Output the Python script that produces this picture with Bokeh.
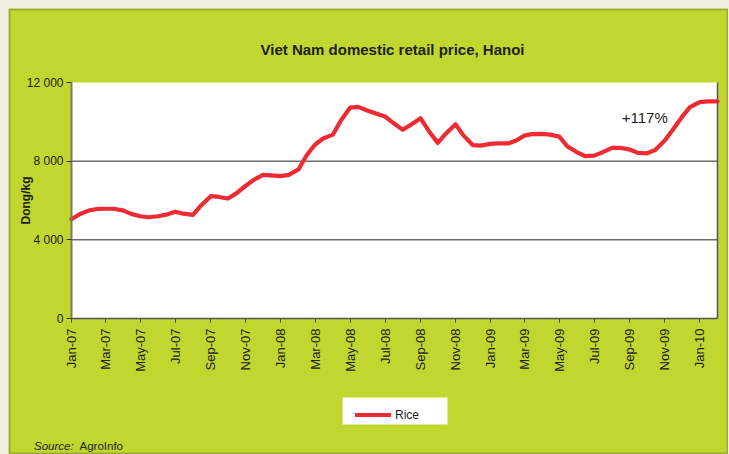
import pandas as pd
from math import pi
from bokeh.plotting import figure
from bokeh.models import (Range1d, FixedTicker, MonthsTicker, DatetimeTickFormatter,
                          Label, Legend, LegendItem, ColumnDataSource, BoxAnnotation)
from bokeh.embed import file_html
from bokeh.resources import INLINE

# ---------------- data ----------------
chart_title = "Viet Nam domestic retail price, Hanoi"
y_axis_title = "Dong/kg"
series_name = "Rice"
source_note = ["Source:", "AgroInfo"]

start_date = "2007-01-01"
end_date = "2010-02-01"
# semi-monthly retail price of rice, Dong/kg
rice_price = [
    5050, 5300, 5500, 5570, 5580, 5580, 5500, 5320,        # Jan-Apr 07
    5200, 5150, 5200, 5280, 5430, 5330, 5270, 5750,        # May-Aug 07
    6220, 6180, 6100, 6350, 6750, 7050, 7300, 7280,        # Sep-Dec 07
    7240, 7300, 7580, 8290, 8850, 9150, 9350, 10070,       # Jan-Apr 08
    10720, 10760, 10560, 10420, 10270, 9950, 9600, 9850,   # May-Aug 08
    10180, 9550, 8930, 9400, 9880, 9300, 8820, 8790,       # Sep-Dec 08
    8880, 8900, 8900, 9050, 9300, 9380, 9390, 9350,        # Jan-Apr 09
    9250, 8750, 8450, 8260, 8280, 8450, 8680, 8680,        # May-Aug 09
    8590, 8420, 8400, 8560, 9050, 9600, 10250, 10750,      # Sep-Dec 09
    11000, 11040, 11040,                                   # Jan-Feb 10
]
y_min, y_max = 0, 12000
y_ticks = [0, 4000, 8000, 12000]
y_tick_labels = ["0", "4 000", "8 000", "12 000"]
grid_values = [4000, 8000]
tick_months = [0, 2, 4, 6, 8, 10]   # Jan, Mar, May, Jul, Sep, Nov
annotation_text = "+117%"
annotation_date = "2009-08-18"
annotation_value = 10220

dates = pd.date_range(start_date, end_date, freq="SMS")
src = ColumnDataSource(dict(date=dates, price=rice_price))

# ---------------- layout (pixels) ----------------
W, H = 720, 446
PL, PR, PT, PB = 63, 11, 74, 136          # plot-area margins inside the canvas
GREEN = "#bfd72f"
RED = "#ee2b33"
TXT = "#222222"
FONT = "Liberation Sans"

t0, t1 = pd.Timestamp(start_date), pd.Timestamp(end_date)
t0_ms, t1_ms = t0.timestamp() * 1000, t1.timestamp() * 1000
ms_per_px = (t1_ms - t0_ms) / (W - PL - PR)
val_per_px = (y_max - y_min) / (H - PT - PB)

p = figure(width=W, height=H, x_axis_type="datetime",
           output_backend="svg", toolbar_location=None, min_border=0,
           x_range=Range1d(t0_ms - PL * ms_per_px, t1_ms + PR * ms_per_px),
           y_range=Range1d(y_min - PB * val_per_px, y_max + PT * val_per_px))
p.background_fill_color = GREEN
p.border_fill_color = GREEN
p.outline_line_color = None
p.xgrid.visible = False
p.ygrid.visible = False

# white plotting area
p.add_layout(BoxAnnotation(left=t0_ms, right=t1_ms, bottom=y_min, top=y_max,
                           fill_color="white", fill_alpha=1.0, line_color=None,
                           level="underlay"))

# horizontal gridlines and right edge of the plotting area
p.segment(x0=[t0] * len(grid_values), x1=[t1] * len(grid_values),
          y0=grid_values, y1=grid_values, line_color="#222222", line_width=1)
p.segment(x0=[t1], x1=[t1], y0=[y_min], y1=[y_max],
          line_color="#555555", line_width=1.5)

line = p.line("date", "price", source=src, line_color=RED, line_width=4.2,
              line_join="round", line_cap="round")

# x axis (sits on y = 0)
xa = p.xaxis[0]
xa.fixed_location = y_min
xa.bounds = (t0_ms, t1_ms)
xa.ticker = MonthsTicker(months=tick_months)
xa.formatter = DatetimeTickFormatter(days="%b-%y", months="%b-%y", years="%b-%y")
xa.major_label_orientation = pi / 2
xa.major_label_text_font = FONT
xa.major_label_text_font_size = "13px"
xa.major_label_text_color = TXT
xa.major_label_standoff = 6
xa.major_tick_in = 0
xa.major_tick_out = 4
xa.major_tick_line_color = "#444444"
xa.minor_tick_line_color = None
xa.axis_line_color = "#555555"
xa.axis_line_width = 1.5

# y axis (sits on the first date)
ya = p.yaxis[0]
ya.fixed_location = t0_ms
ya.bounds = (y_min, y_max)
ya.ticker = FixedTicker(ticks=y_ticks)
ya.major_label_overrides = {t: l for t, l in zip(y_ticks, y_tick_labels)}
ya.major_label_text_font = FONT
ya.major_label_text_font_size = "12px"
ya.major_label_text_color = TXT
ya.major_label_standoff = 3
ya.major_tick_in = 0
ya.major_tick_out = 5
ya.major_tick_line_color = "#333333"
ya.minor_tick_line_color = None
ya.axis_line_color = "#7a7a62"
ya.axis_line_width = 2
ya.axis_label = y_axis_title
ya.axis_label_text_font = FONT
ya.axis_label_text_font_style = "bold"
ya.axis_label_text_font_size = "12px"
ya.axis_label_text_color = TXT
ya.axis_label_standoff = -9

# title
p.add_layout(Label(x=384, y=H - 41, x_units="screen", y_units="screen",
                   text=chart_title, text_align="center", text_baseline="middle",
                   text_font=FONT, text_font_style="bold", text_font_size="15px",
                   text_color=TXT))

# annotation inside the plot
p.add_layout(Label(x=pd.Timestamp(annotation_date), y=annotation_value,
                   text=annotation_text, text_align="left", text_baseline="middle",
                   text_font=FONT, text_font_size="15px", text_color=TXT))

# legend (white key box below the axis)
p.add_layout(BoxAnnotation(left=334, right=439, bottom=30, top=57,
                           left_units="screen", right_units="screen",
                           bottom_units="screen", top_units="screen",
                           fill_color="white", fill_alpha=1.0, line_color=None,
                           level="annotation"))
legend = Legend(items=[LegendItem(label=series_name, renderers=[line])],
                location=(347, 32), orientation="horizontal",
                padding=4, margin=0, spacing=0,
                glyph_width=36, glyph_height=15, label_height=15,
                label_standoff=4, label_text_font=FONT, label_text_font_size="12px",
                label_text_color=TXT, background_fill_alpha=0.0,
                border_line_color=None, level="overlay")
p.add_layout(legend, "center")

# source note
p.add_layout(Label(x=25.5, y=9, x_units="screen", y_units="screen",
                   text=source_note[0], text_align="left", text_baseline="middle",
                   text_font=FONT, text_font_style="italic",
                   text_font_size="11.5px", text_color=TXT))
p.add_layout(Label(x=71, y=9, x_units="screen", y_units="screen",
                   text=source_note[1], text_align="left", text_baseline="middle",
                   text_font=FONT, text_font_size="11.5px", text_color=TXT))

# dark frame around the whole green panel
p.add_layout(BoxAnnotation(left=1, right=W - 1, bottom=1, top=H - 1,
                           left_units="screen", right_units="screen",
                           bottom_units="screen", top_units="screen",
                           fill_alpha=0.0, line_color="#4a4a3c", line_width=2,
                           level="overlay"))

html = file_html(p, INLINE)
html = html.replace("</head>",
                    "<style>html, body {background-color:#f4f0e1 !important;}"
                    " body {padding:8px !important;}</style></head>", 1)
open("out.html", "w").write(html)
